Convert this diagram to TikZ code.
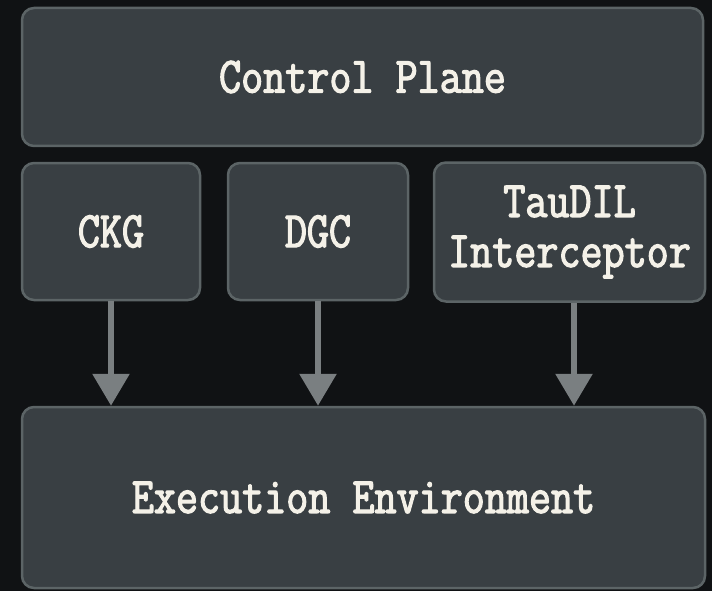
\documentclass[tikz,border=0pt]{standalone}
\usepackage{fontspec}
\usetikzlibrary{arrows.meta}
\newfontfamily\twfont[FakeStretch=0.84,FakeBold=2.4]{Latin Modern Mono}
\definecolor{bgc}{HTML}{101214}
\definecolor{boxfill}{HTML}{393F43}
\definecolor{boxline}{HTML}{5C6466}
\definecolor{arrc}{HTML}{7A7F81}
\definecolor{txt}{HTML}{F4F1E8}
\begin{document}
\begin{tikzpicture}[x=1pt,y=-1pt,
  blk/.style={draw=boxline, fill=boxfill, line width=2.5pt, rounded corners=12pt,
    inner sep=0pt, text=txt, align=center,
    font=\twfont\fontsize{51}{50}\selectfont},
  flow/.style={draw=arrc, line width=6pt, -{Triangle[width=36pt,length=32pt]}}]
\fill[bgc] (0,0) rectangle (712,591);
\useasboundingbox (0,0) rectangle (712,591);
\node[blk, minimum width=681pt, minimum height=138pt] (cp) at (362.5,77) {Control Plane};
\node[blk, minimum width=178pt, minimum height=137pt] (ckg) at (111,231.5) {CKG};
\node[blk, minimum width=180pt, minimum height=137pt] (dgc) at (318,231.5) {DGC};
\node[blk, minimum width=271pt, minimum height=139pt] (tau) at (569.5,232) {TauDIL\\Interceptor};
\node[blk, minimum width=683pt, minimum height=181pt] (exec) at (363.5,497.5) {Execution Environment};
\draw[flow] (ckg.south) -- (ckg.south |- exec.north);
\draw[flow] (dgc.south) -- (dgc.south |- exec.north);
\draw[flow] ([xshift=4.5pt]tau.south) -- ([xshift=4.5pt]tau.south |- exec.north);
\end{tikzpicture}
\end{document}
